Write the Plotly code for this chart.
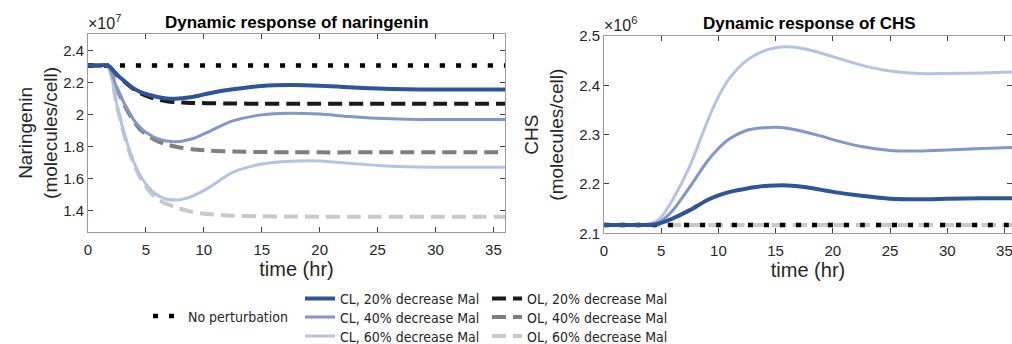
import plotly.graph_objects as go

W, H = 1012, 344

# ---------------- data: naringenin (x 1e7 molecules/cell) ----------------
t_nar = [0, 1, 1.7, 2.5, 3.2, 3.9, 4.6, 5.4, 6.1, 6.8, 7.6, 8.2, 9.0, 9.7, 10.5,
         12.5, 15, 17.5, 20, 22.5, 25, 27.5, 30, 33, 36]
nar_none = [2.308] * len(t_nar)
nar_cl20 = [2.308, 2.308, 2.308, 2.250, 2.206, 2.166, 2.139, 2.121, 2.108, 2.100, 2.099,
            2.103, 2.110, 2.121, 2.134, 2.158, 2.179, 2.185, 2.181, 2.171, 2.163, 2.159,
            2.157, 2.157, 2.157]
nar_cl40 = [2.308, 2.308, 2.308, 2.165, 2.060, 1.972, 1.912, 1.870, 1.847, 1.834, 1.830,
            1.834, 1.848, 1.868, 1.895, 1.960, 1.998, 2.008, 2.003, 1.988, 1.977, 1.971,
            1.969, 1.969, 1.969]
nar_cl60 = [2.308, 2.308, 2.308, 2.058, 1.865, 1.712, 1.607, 1.530, 1.490, 1.469, 1.464,
            1.470, 1.488, 1.512, 1.545, 1.638, 1.690, 1.708, 1.709, 1.695, 1.681, 1.673,
            1.670, 1.669, 1.669]
nar_ol20 = [2.308, 2.308, 2.308, 2.248, 2.203, 2.162, 2.131, 2.108, 2.093, 2.084, 2.078,
            2.075, 2.072, 2.072, 2.071, 2.069, 2.068, 2.068, 2.068, 2.068, 2.068, 2.068,
            2.068, 2.068, 2.068]
nar_ol40 = [2.308, 2.308, 2.308, 2.162, 2.052, 1.964, 1.900, 1.858, 1.830, 1.812, 1.798,
            1.790, 1.783, 1.778, 1.774, 1.768, 1.765, 1.764, 1.763, 1.763, 1.763, 1.763,
            1.763, 1.763, 1.763]
nar_ol60 = [2.308, 2.308, 2.308, 2.052, 1.855, 1.702, 1.592, 1.510, 1.465, 1.440, 1.418,
            1.405, 1.390, 1.381, 1.375, 1.366, 1.362, 1.361, 1.360, 1.360, 1.360, 1.360,
            1.360, 1.360, 1.360]

# ---------------- data: CHS (x 1e6 molecules/cell) ----------------
t_chs = [0, 2, 3, 4, 4.5, 5, 6, 7.5, 9, 10, 11, 12.5, 14, 15, 16, 17.5, 19, 20,
         22.5, 25, 27.5, 30, 33, 36]
chs_none = [2.117] * len(t_chs)
chs_cl20 = [2.117, 2.117, 2.117, 2.117, 2.118, 2.121, 2.130, 2.147, 2.167, 2.177, 2.184,
            2.191, 2.196, 2.197, 2.197, 2.194, 2.188, 2.184, 2.176, 2.170, 2.169, 2.170,
            2.171, 2.171]
chs_cl40 = [2.117, 2.117, 2.117, 2.118, 2.120, 2.125, 2.146, 2.194, 2.245, 2.272, 2.292,
            2.309, 2.314, 2.315, 2.313, 2.306, 2.297, 2.290, 2.276, 2.268, 2.267, 2.269,
            2.272, 2.274]
chs_cl60 = [2.117, 2.117, 2.117, 2.120, 2.124, 2.133, 2.168, 2.236, 2.325, 2.377, 2.415,
            2.451, 2.470, 2.476, 2.478, 2.474, 2.465, 2.458, 2.441, 2.429, 2.424, 2.424,
            2.425, 2.427]
chs_ol20 = [2.117] * len(t_chs)
chs_ol40 = [2.117] * len(t_chs)
chs_ol60 = [2.117] * len(t_chs)

x_ticks = [0, 5, 10, 15, 20, 25, 30, 35]
nar_ticks = [1.4, 1.6, 1.8, 2.0, 2.2, 2.4]
nar_ticktext = ["1.4", "1.6", "1.8", "2", "2.2", "2.4"]
chs_ticks = [2.1, 2.2, 2.3, 2.4, 2.5]
chs_ticktext = ["2.1", "2.2", "2.3", "2.4", "2.5"]

# ---------------- styles ----------------
C_CL20, C_CL40, C_CL60 = "#2f5597", "#8497c3", "#b6c3de"
C_OL20, C_OL40, C_OL60 = "#1a1a1a", "#7f7f7f", "#c9c9c9"
DOT = "5px,11px"
DASH = "14px,7px"

series = [
    # name, nar, chs, color, width, dash, legend
    ("OL, 20% decrease Mal", nar_ol20, chs_ol20, C_OL20, 4, DASH, "legend5"),
    ("OL, 40% decrease Mal", nar_ol40, chs_ol40, C_OL40, 4, DASH, "legend6"),
    ("OL, 60% decrease Mal", nar_ol60, chs_ol60, C_OL60, 4, DASH, "legend7"),
    ("No perturbation", nar_none, chs_none, "#000000", 4.5, DOT, "legend"),
    ("CL, 60% decrease Mal", nar_cl60, chs_cl60, C_CL60, 3, "solid", "legend4"),
    ("CL, 40% decrease Mal", nar_cl40, chs_cl40, C_CL40, 3, "solid", "legend3"),
    ("CL, 20% decrease Mal", nar_cl20, chs_cl20, C_CL20, 4, "solid", "legend2"),
]

fig = go.Figure()
for name, ny, cy, col, lw, dash, leg in series:
    fig.add_trace(go.Scatter(
        x=t_nar, y=ny, mode="lines", name=name, legend=leg,
        line=dict(color=col, width=lw, dash=dash, shape="spline", smoothing=0.8),
        xaxis="x", yaxis="y", showlegend=True, hoverinfo="skip"))
    fig.add_trace(go.Scatter(
        x=t_chs, y=cy, mode="lines", name=name, legend=leg,
        line=dict(color=col, width=lw, dash=dash, shape="spline", smoothing=0.8),
        xaxis="x2", yaxis="y2", showlegend=False, hoverinfo="skip"))

AX_FONT = "Liberation Sans, Arial, Helvetica, sans-serif"
TXT = "#262626"
LINE = "#9a9a9a"


def px_x(p):
    return p / W


def px_y(p):
    return 1 - p / H


axis_common = dict(
    showgrid=False, zeroline=False, showline=True, linecolor=LINE, linewidth=1,
    mirror="ticks", ticks="inside", ticklen=5, tickcolor="#404040",
    tickfont=dict(family=AX_FONT, size=15, color=TXT),
)
xaxis_extra = dict(ticklabelstandoff=4, ticklabeloverflow="allow")

fig.update_layout(
    width=W, height=H,
    margin=dict(l=0, r=0, t=0, b=0, autoexpand=False),
    paper_bgcolor="white", plot_bgcolor="white",
    xaxis=dict(domain=[px_x(88), px_x(505)], range=[0, 36], tickvals=x_ticks,
               title=dict(text="time (hr)", standoff=4,
                          font=dict(family=AX_FONT, size=20, color=TXT)),
               anchor="y", **axis_common, **xaxis_extra),
    yaxis=dict(domain=[px_y(232.3), px_y(33.5)], range=[1.262, 2.508], tickvals=nar_ticks,
               ticktext=nar_ticktext,
               title=dict(text="Naringenin<br>(molecules/cell)", standoff=0,
                          font=dict(family=AX_FONT, size=19, color=TXT)),
               anchor="x", **axis_common),
    xaxis2=dict(domain=[px_x(604), 1.0], range=[0, 35.66], tickvals=x_ticks,
                title=dict(text="time (hr)", standoff=4,
                           font=dict(family=AX_FONT, size=20, color=TXT)),
                anchor="y2", **axis_common, **xaxis_extra),
    yaxis2=dict(domain=[px_y(233.3), px_y(36)], range=[2.1, 2.5], tickvals=chs_ticks,
                ticktext=chs_ticktext,
                title=dict(text="CHS<br>(molecules/cell)", standoff=10,
                           font=dict(family=AX_FONT, size=19, color=TXT)),
                anchor="x2", **axis_common),
    showlegend=True,
)

LEG_FONT = dict(family="DejaVu Sans Condensed, Liberation Sans Narrow, sans-serif",
                size=14, color=TXT)
leg_pos = {
    "legend": (148, 316.5),
    "legend2": (300, 298.8),
    "legend3": (300, 317.5),
    "legend4": (300, 336.5),
    "legend5": (487, 298.8),
    "legend6": (487, 317.5),
    "legend7": (487, 336.5),
}
for key, (lx, ly) in leg_pos.items():
    fig.update_layout({key: dict(x=px_x(lx), y=px_y(ly), xanchor="left", yanchor="middle",
                                 xref="paper", yref="paper", bgcolor="rgba(0,0,0,0)",
                                 borderwidth=0, font=LEG_FONT)})

annos = [
    dict(text="<b>Dynamic response of naringenin</b>", x=px_x(296.5), y=px_y(22.7),
         xanchor="center", yanchor="middle", font=dict(family=AX_FONT, size=17, color="#000")),
    dict(text="<b>Dynamic response of CHS</b>", x=px_x(809), y=px_y(23.3),
         xanchor="center", yanchor="middle", font=dict(family=AX_FONT, size=17, color="#000")),
    dict(text="×10<sup>7</sup>", x=px_x(86), y=px_y(22), xanchor="left", yanchor="middle",
         font=dict(family=AX_FONT, size=16, color=TXT)),
    dict(text="×10<sup>6</sup>", x=px_x(602), y=px_y(24), xanchor="left", yanchor="middle",
         font=dict(family=AX_FONT, size=16, color=TXT)),
]
for a in annos:
    fig.add_annotation(xref="paper", yref="paper", showarrow=False, **a)

fig.write_html("out.html")
